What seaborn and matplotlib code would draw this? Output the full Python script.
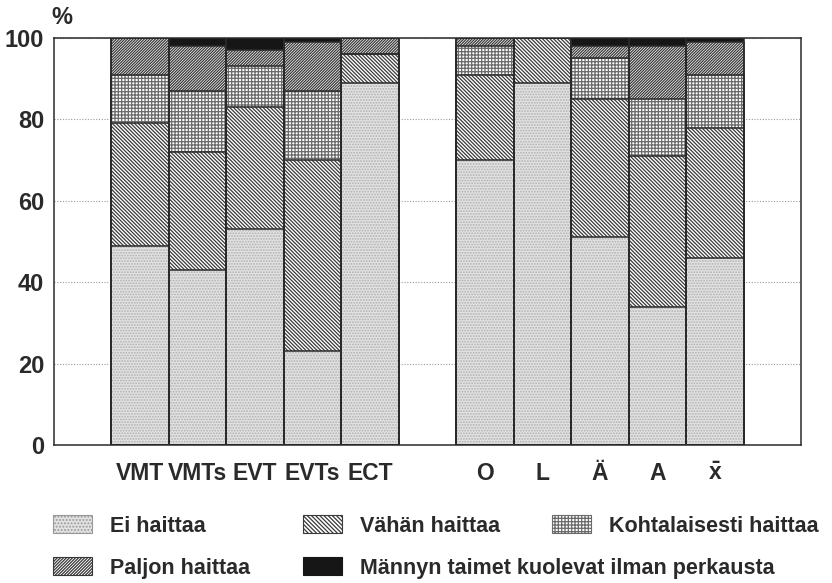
import pandas as pd
import matplotlib.pyplot as plt
import matplotlib.patches as mpatches
import seaborn as sns

# Data (percent of seedlings)
categories = ['VMT', 'VMTs', 'EVT', 'EVTs', 'ECT', 'O', 'L', 'Ä', 'A', r'$\bar{\mathbf{x}}$']
ei_haittaa = [49, 43, 53, 23, 89, 70, 89, 51, 34, 46]
vahan_haittaa = [30, 29, 30, 47, 7, 21, 11, 34, 37, 32]
kohtalaisesti = [12, 15, 10, 17, 0, 7, 0, 10, 14, 13]
paljon_haittaa = [9, 11, 4, 12, 4, 2, 0, 3, 13, 8]
kuolevat = [0, 2, 3, 1, 0, 0, 0, 2, 2, 1]

labels = ['Ei haittaa', 'Vähän haittaa', 'Kohtalaisesti haittaa',
          'Paljon haittaa', 'Männyn taimet kuolevat ilman perkausta']

# slot order with empty gaps
order = [' '] + categories[:5] + ['  '] + categories[5:] + ['   ']

sns.set_style('white')
plt.rcParams['font.family'] = ['Liberation Sans', 'DejaVu Sans']
plt.rcParams['font.weight'] = 'bold'
plt.rcParams['mathtext.fontset'] = 'custom'
plt.rcParams['mathtext.bf'] = 'Liberation Sans:bold'
plt.rcParams['mathtext.rm'] = 'Liberation Sans'
plt.rcParams['hatch.linewidth'] = 0.9
ink = '#2a2a2a'

df = pd.DataFrame({'cat': categories, 'ei': ei_haittaa, 'vahan': vahan_haittaa,
                   'kohtal': kohtalaisesti, 'paljon': paljon_haittaa, 'kuol': kuolevat})
df['c1'] = df['ei']
df['c2'] = df['c1'] + df['vahan']
df['c3'] = df['c2'] + df['kohtal']
df['c4'] = df['c3'] + df['paljon']
df['c5'] = df['c4'] + df['kuol']

fig = plt.figure(figsize=(8.32, 5.83), dpi=100)
ax = fig.add_axes([54 / 832, 1 - 445 / 583, 747 / 832, 407 / 583])

# layer styles: (cumulative column, facecolor, hatch, hatch colour)
styles = [
    ('c5', '#161616', '', '#161616'),
    ('c4', 'white', '/' * 12, '#383838'),
    ('c3', 'white', '+' * 5, '#6a6a6a'),
    ('c2', 'white', '\\' * 9, '#3a3a3a'),
    ('c1', '#e2e2e2', '.' * 6, '#b0b0b0'),
]
for col, fc, hatch, hc in styles:
    sns.barplot(data=df, x='cat', y=col, order=order, color=fc, saturation=1,
                width=1.0, hatch=hatch, edgecolor=hc, linewidth=0, ax=ax, zorder=2)

# dark outlines for every segment
for col in ['c5', 'c4', 'c3', 'c2', 'c1']:
    sns.barplot(data=df, x='cat', y=col, order=order, fill=False, color=ink,
                width=1.0, linewidth=1.1, ax=ax, zorder=3)

ax.set_xlim(-0.5, len(order) - 0.5)
ax.set_ylim(0, 100)
ax.set_yticks([0, 20, 40, 60, 80, 100])
ax.set_xlabel('')
ax.set_ylabel('')
ax.grid(axis='y', linestyle=(0, (1, 1.5)), color='#999999', linewidth=0.8, zorder=0)
ax.set_axisbelow(True)
for s in ax.spines.values():
    s.set_color(ink)
    s.set_linewidth(1.1)
ax.tick_params(axis='y', direction='in', length=4, width=1, color=ink,
               labelsize=17, labelcolor=ink, pad=7)
ax.tick_params(axis='x', length=0, labelsize=16.5, labelcolor=ink, pad=12)

fig.text(62 / 832, 1 - 17 / 583, '%', fontsize=17, color=ink, ha='center', va='center')

# legend, one entry each to match the original placement
leg_styles = [
    ('#e2e2e2', '.' * 5, '#999999'),
    ('white', '\\' * 8, '#3a3a3a'),
    ('white', '+' * 5, '#6a6a6a'),
    ('white', '/' * 11, '#383838'),
    ('#161616', '', '#161616'),
]
positions = [(53, 526), (303, 526), (552, 526), (53, 568), (303, 568)]
for lab, (fc, hatch, hc), (px, py) in zip(labels, leg_styles, positions):
    h = mpatches.Patch(facecolor=fc, hatch=hatch, edgecolor=hc, linewidth=0.8)
    leg = fig.legend([h], [lab], loc='center left', bbox_to_anchor=(px / 832, 1 - py / 583),
                     frameon=False, fontsize=15.5, handlelength=1.8, handleheight=0.9,
                     handletextpad=0.85, borderpad=0, borderaxespad=0)
    for t in leg.get_texts():
        t.set_color(ink)

fig.savefig('out.png', dpi=100)
